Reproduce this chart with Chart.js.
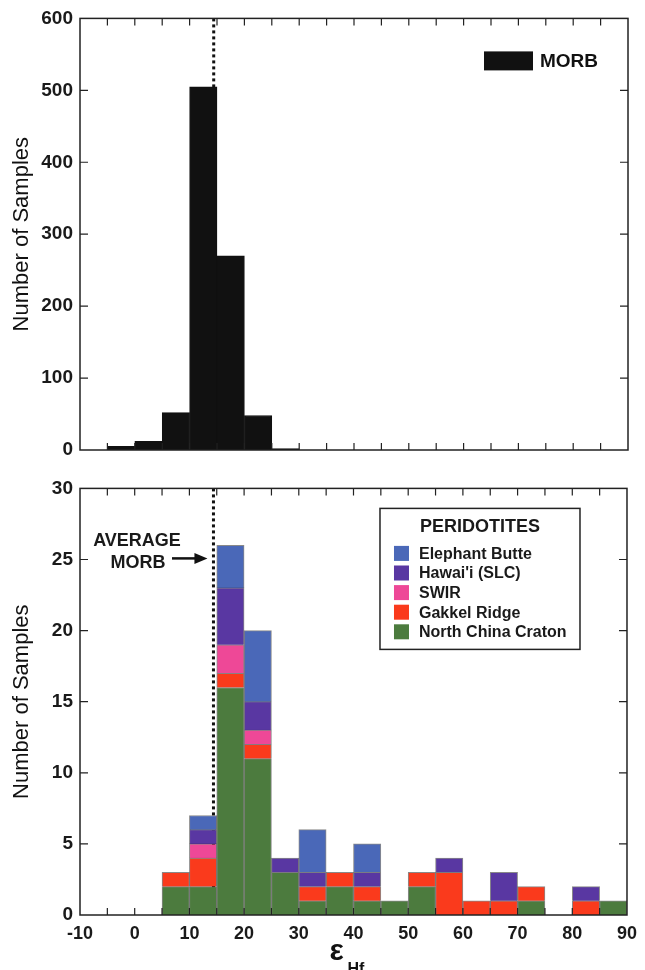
<!DOCTYPE html>
<html>
<head>
<meta charset="utf-8">
<script src="https://cdn.jsdelivr.net/npm/chart.js@4.4.0/dist/chart.umd.min.js"></script>
<style>
    html, body { margin: 0; padding: 0; background: #fff; }
    #wrap { position: relative; width: 645px; height: 970px; }
    .box { position: absolute; left: 0; width: 645px; }
    #top-box { top: 0; height: 470px; }
    #bottom-box { top: 470px; height: 500px; }
</style>
</head>
<body>
<div id="wrap">
    <div class="box" id="top-box"><canvas id="morbChart"></canvas></div>
    <div class="box" id="bottom-box"><canvas id="peridotiteChart"></canvas></div>
</div>
<script>
// Histogram bins are 5 eHf units wide, the numbers below are the bin centres
const morbBins = [-2.5, 2.5, 7.5, 12.5, 17.5, 22.5, 27.5];
const morbCounts = [5, 12, 52, 505, 270, 48, 2];
const averageMorb = 14.4;

const peridBins = [7.5, 12.5, 17.5, 22.5, 27.5, 32.5, 37.5, 42.5, 47.5, 52.5, 57.5, 62.5, 67.5, 72.5, 77.5, 82.5, 87.5];
const northChinaCraton = [2, 2, 16, 11, 3, 1, 2, 1, 1, 2, 0, 0, 0, 1, 0, 0, 1];
const gakkelRidge = [1, 2, 1, 1, 0, 1, 1, 1, 0, 1, 3, 1, 1, 1, 0, 1, 0];
const swir = [0, 1, 2, 1, 0, 0, 0, 0, 0, 0, 0, 0, 0, 0, 0, 0, 0];
const hawaii = [0, 1, 4, 2, 1, 1, 0, 1, 0, 0, 1, 0, 2, 0, 0, 1, 0];
const elephantButte = [0, 1, 3, 5, 0, 3, 0, 2, 0, 0, 0, 0, 0, 0, 0, 0, 0];

const xTickLabels = [-10, 0, 10, 20, 30, 40, 50, 60, 70, 80, 90];

// stacking order, bottom first
const peridSeries = [
    { label: "North China Craton", data: northChinaCraton, color: "#4c7b3e" },
    { label: "Gakkel Ridge", data: gakkelRidge, color: "#fa3a1c" },
    { label: "SWIR", data: swir, color: "#ee4897" },
    { label: "Hawai'i (SLC)", data: hawaii, color: "#5937a2" },
    { label: "Elephant Butte", data: elephantButte, color: "#4a68b8" },
];

Chart.defaults.font.family = "'Liberation Sans', Arial, sans-serif";
Chart.defaults.color = "#1a1a1a";

const toPoints = (bins, vals) => bins.map((b, i) => ({ x: b, y: vals[i] || null }));

// Box, inward ticks and the dotted average MORB line
const frameTicks = {
    id: "frameTicks",
    beforeDatasetsDraw(chart) {
        const { ctx, chartArea: a, scales: { x } } = chart;
        const px = x.getPixelForValue(averageMorb);
        ctx.save();
        ctx.strokeStyle = "#111";
        ctx.lineWidth = 3;
        ctx.setLineDash([3, 3]);
        ctx.beginPath();
        ctx.moveTo(px, a.top);
        ctx.lineTo(px, a.bottom);
        ctx.stroke();
        ctx.restore();
    },
    afterDraw(chart) {
        const { ctx, chartArea: a, scales: { x, y } } = chart;
        ctx.save();
        ctx.strokeStyle = "#222";
        ctx.lineWidth = 1.2;
        ctx.beginPath();
        for (let v = x.min + 5; v < x.max; v += 5) {
            const px = x.getPixelForValue(v);
            ctx.moveTo(px, a.top);
            ctx.lineTo(px, a.top + 7);
            ctx.moveTo(px, a.bottom);
            ctx.lineTo(px, a.bottom - 7);
        }
        y.ticks.forEach((t) => {
            if (t.value <= y.min || t.value >= y.max) return;
            const py = y.getPixelForValue(t.value);
            ctx.moveTo(a.left, py);
            ctx.lineTo(a.left + 8, py);
            ctx.moveTo(a.right, py);
            ctx.lineTo(a.right - 8, py);
        });
        ctx.stroke();
        ctx.lineWidth = 1.5;
        ctx.strokeRect(a.left, a.top, a.width, a.height);
        ctx.restore();
    },
};

// MORB legend in the top panel
const morbLegend = {
    id: "morbLegend",
    afterDraw(chart) {
        const { ctx, chartArea: a } = chart;
        ctx.save();
        ctx.fillStyle = "#111";
        ctx.fillRect(a.right - 144, a.top + 33, 49, 19);
        ctx.font = "bold 19px 'Liberation Sans', Arial, sans-serif";
        ctx.textBaseline = "middle";
        ctx.fillText("MORB", a.right - 88, a.top + 43);
        ctx.restore();
    },
};

// Peridotite legend, arrow note and the eHf axis title
const peridExtras = {
    id: "peridExtras",
    afterDraw(chart) {
        const { ctx, chartArea: a, scales: { x } } = chart;
        ctx.save();

        // legend box
        const lx = a.right - 247, ly = a.top + 20, lw = 200, lh = 141;
        ctx.fillStyle = "#fff";
        ctx.fillRect(lx, ly, lw, lh);
        ctx.strokeStyle = "#222";
        ctx.lineWidth = 1.5;
        ctx.strokeRect(lx, ly, lw, lh);
        ctx.fillStyle = "#1a1a1a";
        ctx.textBaseline = "middle";
        ctx.textAlign = "center";
        ctx.font = "bold 18px 'Liberation Sans', Arial, sans-serif";
        ctx.fillText("PERIDOTITES", lx + lw / 2, ly + 19);
        ctx.textAlign = "left";
        ctx.font = "bold 16px 'Liberation Sans', Arial, sans-serif";
        chart.data.datasets.slice().reverse().forEach((ds, i) => {
            const ry = ly + 45 + i * 19.6;
            ctx.fillStyle = ds.backgroundColor;
            ctx.fillRect(lx + 14, ry - 7.5, 15, 15);
            ctx.fillStyle = "#1a1a1a";
            ctx.fillText(ds.label, lx + 39, ry + 1);
        });

        // AVERAGE MORB note with arrow
        ctx.textAlign = "center";
        ctx.font = "bold 18px 'Liberation Sans', Arial, sans-serif";
        ctx.fillText("AVERAGE", a.left + 57, a.top + 53);
        ctx.fillText("MORB", a.left + 58, a.top + 75);
        const tip = x.getPixelForValue(averageMorb) - 6;
        const ay = a.top + 70;
        ctx.strokeStyle = "#111";
        ctx.lineWidth = 2.5;
        ctx.beginPath();
        ctx.moveTo(a.left + 92, ay);
        ctx.lineTo(tip - 10, ay);
        ctx.stroke();
        ctx.fillStyle = "#111";
        ctx.beginPath();
        ctx.moveTo(tip, ay);
        ctx.lineTo(tip - 13, ay - 5.5);
        ctx.lineTo(tip - 13, ay + 5.5);
        ctx.closePath();
        ctx.fill();

        // x axis title: epsilon with subscript Hf
        const cx = (a.left + a.right) / 2;
        ctx.textAlign = "left";
        ctx.textBaseline = "alphabetic";
        ctx.font = "bold 30px 'Liberation Sans', Arial, sans-serif";
        ctx.fillText("ε", cx - 24, a.bottom + 45);
        ctx.font = "bold 16px 'Liberation Sans', Arial, sans-serif";
        ctx.fillText("Hf", cx - 6, a.bottom + 59);
        ctx.restore();
    },
};

const yTitle = {
    display: true,
    text: "Number of Samples",
    font: { size: 22 },
    color: "#111",
    padding: { top: 9, bottom: 0 },
};

// Top panel: MORB histogram
new Chart(document.getElementById("morbChart").getContext("2d"), {
    type: "bar",
    data: {
        datasets: [
            {
                label: "MORB",
                data: toPoints(morbBins, morbCounts),
                backgroundColor: "#111",
                borderColor: "#111",
                borderWidth: 1,
                barPercentage: 1,
                categoryPercentage: 1,
            },
        ],
    },
    options: {
        responsive: true,
        maintainAspectRatio: false,
        animation: false,
        layout: { padding: { top: 18, right: 17, left: 0, bottom: 0 } },
        plugins: { legend: { display: false }, tooltip: { enabled: false } },
        scales: {
            x: {
                type: "linear",
                min: -10,
                max: 90,
                offset: false,
                ticks: { display: false, stepSize: 10 },
                grid: { display: false, drawTicks: false, offset: false },
                border: { display: false },
                afterFit: (s) => { s.height = 20; },
            },
            y: {
                min: 0,
                max: 600,
                ticks: { stepSize: 100, padding: 7, font: { size: 19, weight: "bold" } },
                grid: { display: false, drawTicks: false },
                border: { display: false },
                title: yTitle,
                afterFit: (s) => { s.width = 80; },
            },
        },
    },
    plugins: [frameTicks, morbLegend],
});

// Bottom panel: stacked peridotite histogram
new Chart(document.getElementById("peridotiteChart").getContext("2d"), {
    type: "bar",
    data: {
        datasets: peridSeries.map((s) => ({
            label: s.label,
            data: toPoints(peridBins, s.data),
            backgroundColor: s.color,
            borderColor: "rgba(40,40,40,0.55)",
            borderWidth: 1,
            barPercentage: 1,
            categoryPercentage: 1,
        })),
    },
    options: {
        responsive: true,
        maintainAspectRatio: false,
        animation: false,
        layout: { padding: { top: 14, right: 17, left: 0, bottom: 0 } },
        plugins: { legend: { display: false }, tooltip: { enabled: false } },
        scales: {
            x: {
                type: "linear",
                stacked: true,
                min: xTickLabels[0],
                max: xTickLabels[xTickLabels.length - 1],
                offset: false,
                afterBuildTicks: (s) => { s.ticks = xTickLabels.map((v) => ({ value: v })); },
                ticks: { padding: 8, font: { size: 18, weight: "bold" } },
                grid: { display: false, drawTicks: false, offset: false },
                border: { display: false },
                afterFit: (s) => { s.height = 55; },
            },
            y: {
                stacked: true,
                min: 0,
                max: 30,
                ticks: { stepSize: 5, padding: 7, font: { size: 19, weight: "bold" } },
                grid: { display: false, drawTicks: false },
                border: { display: false },
                title: yTitle,
                afterFit: (s) => { s.width = 80; },
            },
        },
    },
    plugins: [frameTicks, peridExtras],
});
</script>
</body>
</html>
